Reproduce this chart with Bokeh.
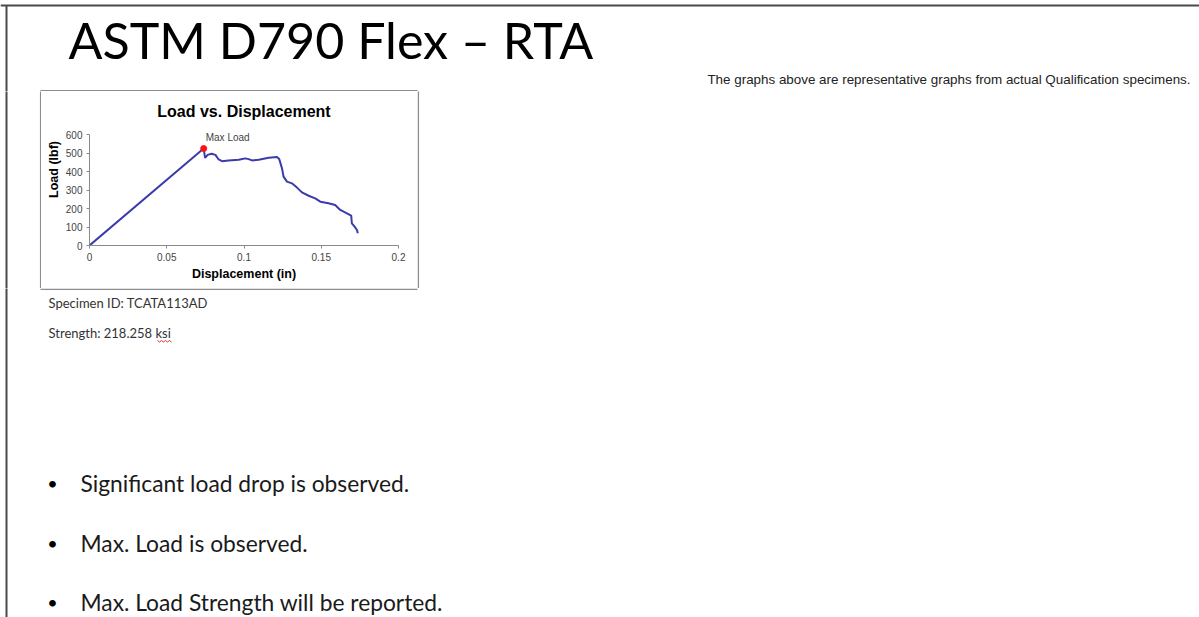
from bokeh.plotting import figure
from bokeh.models import Range1d, FixedTicker, Label
from bokeh.layouts import column, row
from bokeh.core.properties import value
from bokeh.embed import file_html
from bokeh.resources import INLINE

# ---------------- data ----------------
disp = [0.0, 0.0739, 0.0748, 0.0765, 0.0790, 0.0815, 0.0836, 0.0858, 0.0900, 0.0966,
        0.1009, 0.1030, 0.1052, 0.1095, 0.1160, 0.1213, 0.1228, 0.1246, 0.1256, 0.1278,
        0.1310, 0.1343, 0.1375, 0.1418, 0.1461, 0.1494, 0.1547, 0.1590, 0.1623, 0.1666,
        0.1694, 0.1698, 0.1716, 0.1731, 0.1737]
load = [0, 524, 474, 490, 496, 490, 465, 456, 460, 463,
        471, 467, 460, 463, 474, 478, 467, 417, 372, 345,
        336, 313, 287, 269, 255, 237, 228, 219, 192, 174,
        162, 120, 102, 84, 66]
max_disp = [0.0739]
max_load = [524]
x_ticks = [0, 0.05, 0.1, 0.15, 0.2]
x_tick_labels = ["0", "0.05", "0.1", "0.15", "0.2"]
y_ticks = [0, 100, 200, 300, 400, 500, 600]
y_tick_labels = ["0", "100", "200", "300", "400", "500", "600"]

slide_title = "ASTM D790 Flex \u2013 RTA"
note_text = "The graphs above are representative graphs from actual Qualification specimens."
chart_title = "Load vs. Displacement"
x_label = "Displacement (in)"
y_label = "Load (lbf)"
max_label = "Max Load"
specimen_lines = ["Specimen ID: TCATA113AD", "Strength: 218.258 ksi"]
bullets = ["Significant load drop is observed.",
           "Max. Load is observed.",
           "Max. Load Strength will be reported."]

BORDER = "#4a4a4a"
BOX = "#8c8c8c"


def canvas(w, h):
    f = figure(width=w, height=h, x_range=Range1d(0, w), y_range=Range1d(h, 0),
               output_backend="svg", toolbar_location=None,
               x_axis_location=None, y_axis_location=None, min_border=0,
               frame_align=False)
    f.outline_line_color = None
    f.background_fill_color = "white"
    f.border_fill_color = "white"
    f.xgrid.visible = False
    f.ygrid.visible = False
    return f


W = 1199
H_HEAD, H_ROW, H_LOW = 91, 197, 329

# ---------------- header (page y 0..91) ----------------
header = canvas(W, H_HEAD)
header.line([0, W], [5, 5], line_color=BORDER, line_width=2)
header.line([6, 6], [5, H_HEAD + 10], line_color=BORDER, line_width=2)
header.line([40, 417], [90.2, 90.2], line_color=BOX, line_width=1.5)
header.text(x=[68], y=[39], text=[slide_title], text_font=value("Lato"),
            text_font_size="50.2px", text_baseline="alphabetic", text_align="left",
            text_color="black")
header.text(x=[1190], y=[79], text=[note_text], text_font=value("Liberation Sans"),
            text_font_size="13.4px", text_baseline="alphabetic", text_align="right",
            text_color="#222222")

# ---------------- chart row (page y 91..288) ----------------
left = canvas(41, H_ROW)
left.line([6, 6], [-10, H_ROW + 10], line_color=BORDER, line_width=2)
left.line([40.2, 40.2], [-10, H_ROW + 10], line_color=BOX, line_width=1.5)

right = canvas(W - 41 - 376, H_ROW)
right.line([0.8, 0.8], [-10, H_ROW + 10], line_color=BOX, line_width=1.5)

# frame runs from page y 93 to 245; the axis itself is bounded to 0..600
Y_TOP = 600 * (245 - 93) / 111
chart = figure(width=376, height=H_ROW, x_range=Range1d(0, 0.2), y_range=Range1d(0, Y_TOP),
               output_backend="svg", toolbar_location=None,
               min_border_left=48, min_border_right=19, min_border_top=2, min_border_bottom=43,
               frame_align=False)
chart.outline_line_color = None
chart.background_fill_color = "white"
chart.border_fill_color = "white"
chart.xgrid.visible = False
chart.ygrid.visible = False
chart.add_layout(Label(x=0.1, y=600, text=chart_title, y_offset=23,
                       text_align="center", text_baseline="middle",
                       text_font="Liberation Sans", text_font_size="16px",
                       text_font_style="bold", text_color="black"))

chart.xaxis.ticker = FixedTicker(ticks=x_ticks)
chart.yaxis.ticker = FixedTicker(ticks=y_ticks)
chart.yaxis.bounds = (0, 600)
chart.xaxis.major_label_overrides = {t: l for t, l in zip(x_ticks, x_tick_labels)}
chart.yaxis.major_label_overrides = {t: l for t, l in zip(y_ticks, y_tick_labels)}
for ax in (chart.xaxis, chart.yaxis):
    ax.axis_line_color = "#8a8a8a"
    ax.axis_line_width = 1
    ax.major_tick_line_color = "#8a8a8a"
    ax.major_tick_out = 3
    ax.major_tick_in = 0
    ax.minor_tick_line_color = None
    ax.major_label_text_font = "Liberation Sans"
    ax.major_label_text_font_size = "10px"
    ax.major_label_text_color = "#444444"
    ax.axis_label_text_font = "Liberation Sans"
    ax.axis_label_text_font_size = "12.5px"
    ax.axis_label_text_font_style = "bold"
    ax.axis_label_text_color = "black"
chart.xaxis.axis_label = x_label
chart.yaxis.axis_label = y_label
chart.xaxis.major_label_standoff = 4
chart.yaxis.major_label_standoff = 4
chart.xaxis.axis_label_standoff = 3
chart.yaxis.axis_label_standoff = 2

chart.line(disp, load, line_color="#3b3bab", line_width=2)
chart.scatter(max_disp, max_load, size=6, color="#ff1010")
chart.add_layout(Label(x=max_disp[0], y=max_load[0], text=max_label, x_offset=24, y_offset=11,
                       text_align="center", text_baseline="middle",
                       text_font="Liberation Sans", text_font_size="10px", text_color="#444444"))

# ---------------- lower (page y 288..617) ----------------
lower = canvas(W, H_LOW)
lower.line([6, 6], [-10, H_LOW + 10], line_color=BORDER, line_width=2)
lower.line([40, 417], [0.8, 0.8], line_color=BOX, line_width=1.5)
lower.text(x=[48, 48], y=[302 - 288, 332 - 288], text=specimen_lines, text_font=value("Lato"),
           text_font_size="13px", text_baseline="alphabetic", text_align="left",
           text_color="#333333")
lower.line([157, 159, 161, 163, 165, 167, 169, 171], [52, 53.5, 52, 53.5, 52, 53.5, 52, 53.5],
           line_color="#e03030", line_width=1)
bullet_y = [482 - 288, 542 - 288, 601 - 288]
lower.text(x=[52, 52, 52], y=bullet_y, text=["\u2022"] * 3, text_font=value("Lato"),
           text_font_size="18px", text_baseline="alphabetic", text_align="center",
           text_color="black")
lower.text(x=[80, 80, 80], y=bullet_y, text=bullets, text_font=value("Lato"),
           text_font_size="22.8px", text_baseline="alphabetic", text_align="left",
           text_color="#1a1a1a")

layout = column(header, row(left, chart, right, spacing=0), lower, spacing=0)

open("out.html", "w").write(file_html(layout, INLINE))
